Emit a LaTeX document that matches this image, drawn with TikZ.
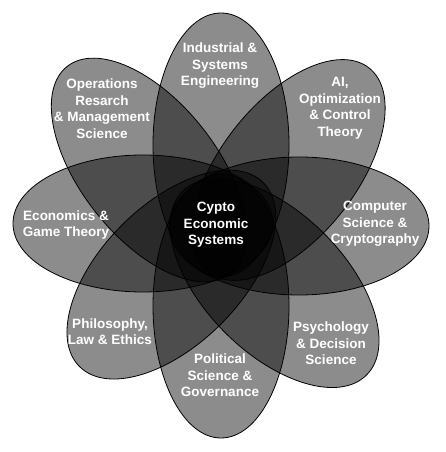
\documentclass[tikz,border=0pt]{standalone}
\usepackage{fontspec}
\setmainfont{Liberation Sans}
\begin{document}
\begin{tikzpicture}[x=1pt,y=1pt,
  petal/.style={draw=black, line width=0.8pt, fill=black, fill opacity=0.45},
  lbl/.style={text=white, align=center, inner sep=0pt,
    font=\bfseries\fontsize{13.5}{16.5}\selectfont}]
\useasboundingbox (0,0) rectangle (446,452);
% petals
\draw[petal] (221,307) ellipse [x radius=132, y radius=68, rotate=90];
\draw[petal] (221,146) ellipse [x radius=132, y radius=68, rotate=90];
\draw[petal] (143,228.5) ellipse [x radius=130, y radius=68.5, rotate=0];
\draw[petal] (299,226) ellipse [x radius=130, y radius=69, rotate=0];
\draw[petal] (149,282) ellipse [x radius=132, y radius=68, rotate=128.3];
\draw[petal] (288.5,282) ellipse [x radius=130, y radius=68, rotate=51.7];
\draw[petal] (274.6,168.9) ellipse [x radius=130, y radius=70, rotate=-45];
\draw[petal] (171.4,177.4) ellipse [x radius=130, y radius=70, rotate=45];
% labels
\node[lbl] (ise) at (220,386) {Industrial \&\\Systems\\Engineering};
\node[lbl] (or) at (102,343.5) {Operations\\Resarch\\\& Management\\Science};
\node[lbl] (ai) at (340,343.5) {AI,\\Optimization\\\& Control\\Theory};
\node[lbl] (eco) at (66,227) {Economics \&\\Game Theory};
\node[lbl] (cs) at (375,228) {Computer\\Science \&\\Cryptography};
\node[lbl] (phil) at (110,120.5) {Philosophy,\\Law \& Ethics};
\node[lbl] (pol) at (220,76.5) {Political\\Science \&\\Governance};
\node[lbl] (psy) at (331,108.5) {Psychology\\\& Decision\\Science};
\node[lbl] (ces) at (216,227) {Cypto\\Economic\\Systems};
\end{tikzpicture}
\end{document}
